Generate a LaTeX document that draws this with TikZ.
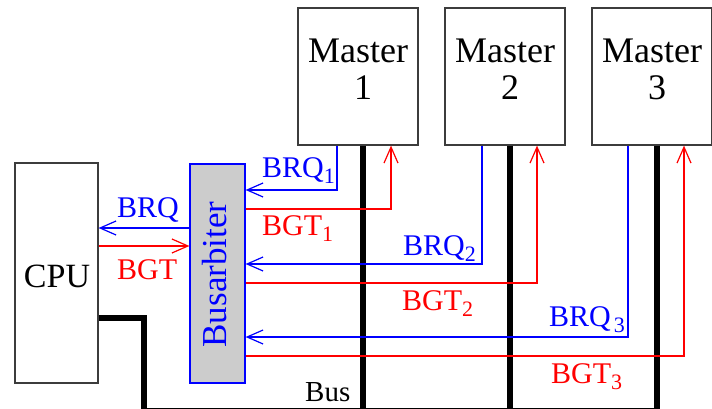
\documentclass[tikz,border=0pt]{standalone}
\usepackage{fontspec}
\setmainfont{Liberation Serif}
\usetikzlibrary{arrows.meta}
\definecolor{bblue}{RGB}{0,0,255}
\definecolor{rred}{RGB}{255,0,0}
\definecolor{edge}{RGB}{60,60,60}
\definecolor{arbfill}{RGB}{204,204,204}
\newcommand{\lbl}[2]{#1\raisebox{-6pt}{\fontsize{22}{22}\selectfont #2}}
\begin{document}
\begin{tikzpicture}[x=1pt,y=-1pt,
  box/.style={draw=edge,line width=1.2pt,fill=white,inner sep=0pt},
  bl/.style={draw=bblue,line width=1.1pt},
  rd/.style={draw=rred,line width=1.1pt},
  arr/.style={-{Straight Barb[length=16pt,width=14pt,line width=1.2pt]}},
  bus/.style={draw=black,line width=5.5pt},
  lab/.style={font=\fontsize{30}{30}\selectfont,anchor=base west,inner sep=0pt},
  mtext/.style={font=\fontsize{36}{37}\selectfont,align=center,inner sep=0pt}]
\useasboundingbox (0,0) rectangle (712,409);
% boxes
\node[box,minimum width=83pt,minimum height=220pt] (cpu) at (56.5,273) {};
\node[font=\fontsize{34}{34}\selectfont,inner sep=0pt] (cputxt) at (57,276) {CPU};
\node[box,minimum width=120pt,minimum height=137pt] (m1) at (358,76.5) {};
\node[box,minimum width=120pt,minimum height=137pt] (m2) at (505,76.5) {};
\node[box,minimum width=120pt,minimum height=137pt] (m3) at (652,76.5) {};
\node[mtext] (m1t) at (358,69) {Master\\\hspace*{10pt}1};
\node[mtext] (m2t) at (505,69) {Master\\\hspace*{10pt}2};
\node[mtext] (m3t) at (652,69) {Master\\\hspace*{10pt}3};
% bus
\coordinate (bc) at (144,410.5);
\coordinate (b1) at (363,410.5);
\coordinate (b2) at (510,410.5);
\coordinate (b3) at (657,410.5);
\draw[bus] (cpu.east |- 0,318) -| (bc) -- (b3);
\draw[bus] (m1.south -| b1) -- (b1);
\draw[bus] (m2.south -| b2) -- (b2);
\draw[bus] (m3.south -| b3) -- (b3);
% arbiter
\node[draw=bblue,line width=1.2pt,fill=arbfill,minimum width=55pt,minimum height=219pt,inner sep=0pt] (arb) at (217.5,273.5) {};
\node[rotate=90,text=bblue,font=\fontsize{35}{35}\selectfont,inner sep=0pt] (arbt) at (215,274.5) {Busarbiter};
% cpu <-> arbiter
\draw[bl,arr] (arb.west |- 0,228) -- (cpu.east |- 0,228);
\draw[rd,arr] (cpu.east |- 0,246) -- (arb.west |- 0,246);
% masters
\draw[bl,arr] (m1.south -| 337,0) |- (arb.east |- 0,190);
\draw[rd,arr] (arb.east |- 0,209) -| (m1.south -| 391,0);
\draw[bl,arr] (m2.south -| 482,0) |- (arb.east |- 0,264);
\draw[rd,arr] (arb.east |- 0,283) -| (m2.south -| 537,0);
\draw[bl,arr] (m3.south -| 628,0) |- (arb.east |- 0,337);
\draw[rd,arr] (arb.east |- 0,356) -| (m3.south -| 684,0);
% labels
\node[lab,text=bblue] (lbrq) at (117,217) {BRQ};
\node[lab,text=rred] (lbgt) at (117,279) {BGT};
\node[lab,text=bblue] (lbrq1) at (262,177) {\lbl{BRQ}{1}};
\node[lab,text=rred] (lbgt1) at (262,235) {\lbl{BGT}{1}};
\node[lab,text=bblue] (lbrq2) at (403,255) {\lbl{BRQ}{2}};
\node[lab,text=rred] (lbgt2) at (402,310) {\lbl{BGT}{2}};
\node[lab,text=bblue] (lbrq3) at (549,326) {\lbl{BRQ\hspace{3pt}}{3}};
\node[lab,text=rred] (lbgt3) at (551,383) {\lbl{BGT}{3}};
\node[lab,font=\fontsize{29}{29}\selectfont] (lbus) at (305,401) {Bus};
\end{tikzpicture}
\end{document}
